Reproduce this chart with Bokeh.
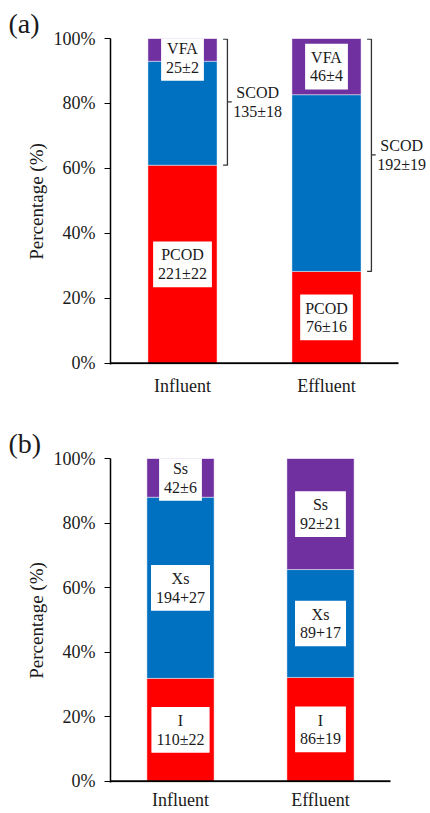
from bokeh.plotting import figure
from bokeh.models import Range1d, FixedTicker, Label, ColumnDataSource
from bokeh.layouts import column
from bokeh.embed import file_html
from bokeh.resources import INLINE

categories = ["Influent", "Effluent"]
y_ticks = [0, 20, 40, 60, 80, 100]
y_tick_labels = ["0%", "20%", "40%", "60%", "80%", "100%"]

# Panel (a): COD fractions (% of total)
a_pcod_pct = [61.0, 28.3]
a_scod_rest_pct = [32.0, 54.4]
a_vfa_pct = [7.0, 17.3]
a_pcod_txt = ["221±22", "76±16"]
a_vfa_txt = ["25±2", "46±4"]
a_scod_txt = ["135±18", "192±19"]

# Panel (b)
b_i_pct = [31.9, 32.2]
b_xs_pct = [56.1, 33.4]
b_ss_pct = [12.0, 34.4]
b_i_txt = ["110±22", "86±19"]
b_xs_txt = ["194+27", "89+17"]
b_ss_txt = ["42±6", "92±21"]

COLORS = ["#FF0000", "#0070C0", "#7030A0"]
FONT = "Liberation Serif"
BAR_W = 0.48
TXT = "#1a1a1a"


def make_panel(tag, h, top, bottom, x_end, seg_vals, seg_names, seg_texts,
               bracket=None, x_standoff=11):
    n = len(categories)
    xs = [i + 0.5 for i in range(n)]
    p = figure(width=430, height=h, x_range=Range1d(0, x_end),
               y_range=Range1d(-0.35, 100),
               output_backend="svg", toolbar_location=None,
               min_border_left=110, min_border_right=0,
               min_border_top=top, min_border_bottom=bottom)
    p.outline_line_color = None
    p.xgrid.visible = False
    p.ygrid.visible = False

    data = {"x": xs}
    keys = []
    for k, vals in enumerate(seg_vals):
        data[f"s{k}"] = vals
        keys.append(f"s{k}")
    src = ColumnDataSource(data)
    p.vbar_stack(keys, x="x", width=BAR_W, fill_color=COLORS, line_color="white",
                 line_alpha=0.45, line_width=1, source=src)

    # x-axis baseline (only under the category area)
    p.segment(x0=[0], y0=[0], x1=[n], y1=[0], line_color="black", line_width=2)

    # white boxed data labels
    for i, x in enumerate(xs):
        base = 0.0
        for k in range(len(seg_vals)):
            v = seg_vals[k][i]
            if seg_texts[k] is not None:
                mid = min(base + v / 2.0, 94.0)
                p.add_layout(Label(x=x, y=mid, text=f"{seg_names[k]}\n{seg_texts[k][i]}",
                                   text_align="center", text_baseline="middle",
                                   text_font=FONT, text_font_size="16px", text_color=TXT,
                                   text_line_height=1.1,
                                   background_fill_color="white", padding=5))
            base += v

    if bracket is not None:
        lo_vals, name, texts = bracket
        gap, hook, nub = 0.072, 0.03, 0.03
        mxs, mys = [], []
        for i, x in enumerate(xs):
            lo = lo_vals[i]
            xv = x + BAR_W / 2 + gap
            mid = (lo + 100) / 2
            mxs.append([xv - hook, xv, xv, xv - hook])
            mys.append([99.8, 99.8, lo, lo])
            mxs.append([xv, xv + nub])
            mys.append([mid, mid])
            p.add_layout(Label(x=xv + 0.21, y=mid, text=f"{name}\n{texts[i]}",
                               text_align="center", text_baseline="middle",
                               text_font=FONT, text_font_size="16px", text_color=TXT,
                               text_line_height=1.1))
        p.multi_line(xs=mxs, ys=mys, line_color="#333333", line_width=1.3)

    # axes
    xa = p.xaxis[0]
    xa.ticker = FixedTicker(ticks=xs)
    xa.major_label_overrides = {x: c for x, c in zip(xs, categories)}
    xa.axis_line_color = None
    xa.major_tick_line_color = None
    xa.minor_tick_line_color = None
    xa.major_tick_out = 0
    xa.major_tick_in = 0
    xa.major_label_standoff = x_standoff
    xa.major_label_text_font = FONT
    xa.major_label_text_font_size = "18px"
    xa.major_label_text_color = TXT

    ya = p.yaxis[0]
    ya.ticker = FixedTicker(ticks=y_ticks)
    ya.major_label_overrides = {t: l for t, l in zip(y_ticks, y_tick_labels)}
    ya.axis_line_width = 1.5
    ya.axis_line_color = "black"
    ya.major_tick_line_color = "black"
    ya.major_tick_line_width = 1.2
    ya.minor_tick_line_color = None
    ya.major_tick_out = 6
    ya.major_tick_in = 0
    ya.major_label_standoff = 9
    ya.major_label_text_font = FONT
    ya.major_label_text_font_size = "18px"
    ya.major_label_text_color = TXT
    ya.axis_label = "Percentage (%)"
    ya.axis_label_text_font = FONT
    ya.axis_label_text_font_style = "normal"
    ya.axis_label_text_font_size = "19px"
    ya.axis_label_text_color = TXT
    ya.axis_label_standoff = 4

    p.title.text = tag
    p.title.align = "left"
    p.title.offset = -102
    p.title.standoff = 0
    p.title.text_font = FONT
    p.title.text_font_size = "28px"
    p.title.text_font_style = "normal"
    p.title.text_color = TXT
    return p


# frame is 320 px wide; panel (a) uses 144 px per category, panel (b) 140 px
pa = make_panel("(a)", 405, 38, 41, 320 / 144,
                [a_pcod_pct, a_scod_rest_pct, a_vfa_pct],
                ["PCOD", "SCOD", "VFA"],
                [a_pcod_txt, None, a_vfa_txt],
                bracket=(a_pcod_pct, "SCOD", a_scod_txt))
pb = make_panel("(b)", 408, 53, 31, 320 / 140,
                [b_i_pct, b_xs_pct, b_ss_pct],
                ["I", "Xs", "Ss"],
                [b_i_txt, b_xs_txt, b_ss_txt], x_standoff=7)

layout = column(pa, pb)
open("out.html", "w").write(file_html(layout, INLINE))
